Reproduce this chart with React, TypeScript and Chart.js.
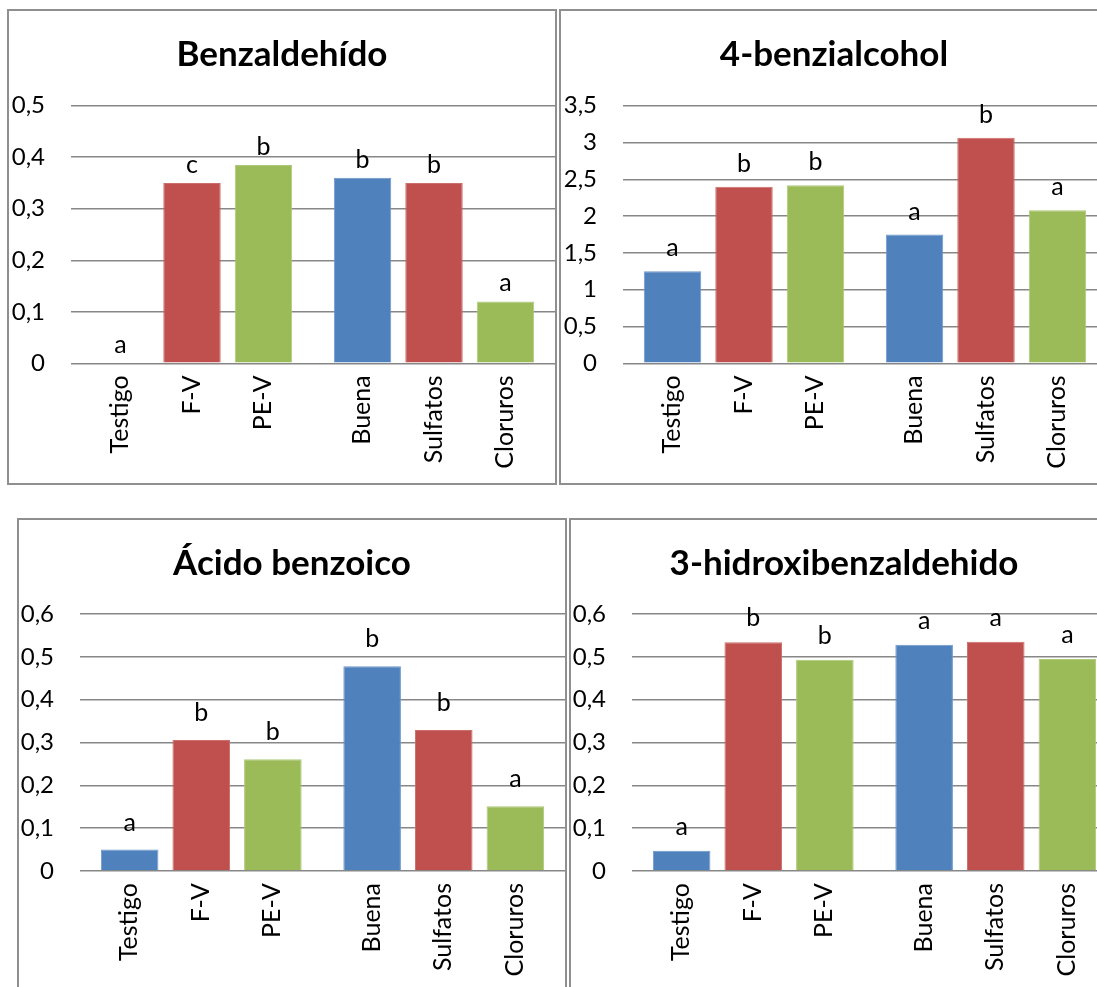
import { useEffect, useRef } from 'react';
import { Chart, registerables } from 'chart.js';

Chart.register(...registerables);

// Treatments, in drawing order: first group then second group
const treatments = ['Testigo', 'F-V', 'PE-V', 'Buena', 'Sulfatos', 'Cloruros'];
const groups = ['Tratamiento', 'Agua'];

const titles = ['Benzaldehído', '4-benzialcohol', 'Ácido benzoico', '3-hidroxibenzaldehido'];

// Concentrations per treatment (same order as treatments)
const benzaldehido = [0, 0.35, 0.385, 0.36, 0.35, 0.12];
const benzialcohol = [1.25, 2.4, 2.42, 1.75, 3.065, 2.08];
const acidoBenzoico = [0.05, 0.306, 0.261, 0.478, 0.329, 0.151];
const hidroxibenzaldehido = [0.047, 0.534, 0.493, 0.528, 0.535, 0.495];

// Significance letters per treatment
const letrasBenzaldehido = ['a', 'c', 'b', 'b', 'b', 'a'];
const letrasBenzialcohol = ['a', 'b', 'b', 'a', 'b', 'a'];
const letrasAcidoBenzoico = ['a', 'b', 'b', 'b', 'b', 'a'];
const letrasHidroxibenzaldehido = ['a', 'b', 'b', 'a', 'a', 'a'];

// Value axis ranges
const yMax = [0.5, 3.5, 0.6, 0.6];
const yStep = [0.1, 0.5, 0.1, 0.1];

const seriesColors = ['#4F81BD', '#C0504D', '#9BBB59'];
const seriesEdges = ['#6F97CB', '#CC6E6B', '#AEC879'];

const FONT = 'Lato, "Open Sans", sans-serif';

type PanelSpec = {
  title: string;
  values: number[];
  letters: string[];
  max: number;
  step: number;
  left: number;
  top: number;
  plotLeft: number;
  plotTop: number;
  plotBottom: number;
  letterGap: number;
};

const PANEL_W = 550;
const PANEL_H = 476;
const BORDER = 2;
const INNER_W = PANEL_W - 2 * BORDER;
const INNER_H = PANEL_H - 2 * BORDER;

const panels: PanelSpec[] = [
  { title: titles[0], values: benzaldehido, letters: letrasBenzaldehido, max: yMax[0], step: yStep[0], left: 7, top: 9, plotLeft: 62, plotTop: 94.7, plotBottom: 352.3, letterGap: 10 },
  { title: titles[1], values: benzialcohol, letters: letrasBenzialcohol, max: yMax[1], step: yStep[1], left: 559, top: 9, plotLeft: 62, plotTop: 94.7, plotBottom: 352.3, letterGap: 15 },
  { title: titles[2], values: acidoBenzoico, letters: letrasAcidoBenzoico, max: yMax[2], step: yStep[2], left: 17, top: 518, plotLeft: 61, plotTop: 94, plotBottom: 351, letterGap: 19 },
  { title: titles[3], values: hidroxibenzaldehido, letters: letrasHidroxibenzaldehido, max: yMax[3], step: yStep[3], left: 569, top: 518, plotLeft: 61, plotTop: 94, plotBottom: 351, letterGap: 16 },
];

function formatTick(v: number): string {
  const r = Math.round(v * 10) / 10;
  return String(r).replace('.', ',');
}

// Draws the title, the letters above the bars and the rotated treatment names
function makeOverlay(spec: PanelSpec) {
  return {
    id: 'overlay',
    afterDatasetsDraw(chart: any) {
      const { ctx, chartArea } = chart;
      ctx.save();
      ctx.fillStyle = '#000';
      for (let d = 0; d < 3; d++) {
        const meta = chart.getDatasetMeta(d);
        meta.data.forEach((bar: any, g: number) => {
          const idx = g * 3 + d;
          ctx.font = `25px ${FONT}`;
          ctx.textAlign = 'center';
          ctx.textBaseline = 'alphabetic';
          ctx.fillText(spec.letters[idx], bar.x, bar.y - spec.letterGap);
          ctx.save();
          ctx.translate(bar.x, chartArea.bottom + 12);
          ctx.rotate(-Math.PI / 2);
          ctx.textAlign = 'right';
          ctx.font = `25px ${FONT}`;
          ctx.fillText(treatments[idx], 0, 7.5);
          ctx.restore();
        });
      }
      ctx.font = `bold 35px ${FONT}`;
      ctx.textAlign = 'center';
      ctx.textBaseline = 'alphabetic';
      ctx.fillText(spec.title, chart.width / 2, 55);
      ctx.restore();
    },
  };
}

function Panel({ spec }: { spec: PanelSpec }) {
  const ref = useRef<HTMLCanvasElement | null>(null);

  useEffect(() => {
    if (!ref.current) return;
    const datasets = [0, 1, 2].map((s) => ({
      label: String(s),
      data: groups.map((_, g) => spec.values[g * 3 + s]),
      backgroundColor: seriesColors[s],
      borderColor: seriesEdges[s],
      borderWidth: 1,
      borderSkipped: 'start' as const,
      categoryPercentage: 0.886,
      barPercentage: 0.804,
    }));
    const chart = new Chart(ref.current, {
      type: 'bar',
      data: { labels: groups, datasets },
      plugins: [makeOverlay(spec)],
      options: {
        animation: false,
        responsive: false,
        events: [],
        layout: {
          padding: {
            left: 0,
            right: 0,
            top: spec.plotTop,
            bottom: INNER_H - spec.plotBottom,
          },
        },
        plugins: {
          legend: { display: false },
          tooltip: { enabled: false },
          title: { display: false },
        },
        scales: {
          x: {
            display: false,
          },
          y: {
            min: 0,
            max: spec.max,
            afterFit: (scale: any) => {
              scale.width = spec.plotLeft;
            },
            ticks: {
              stepSize: spec.step,
              padding: 26,
              color: '#000',
              font: { family: FONT, size: 24 },
              callback: (v: any) => formatTick(Number(v)),
            },
            grid: {
              color: '#878787',
              lineWidth: 1.5,
              drawTicks: false,
            },
            border: { display: false },
          },
        },
      },
    });
    return () => chart.destroy();
  }, [spec]);

  return (
    <div
      style={{
        position: 'absolute',
        left: spec.left,
        top: spec.top,
        width: PANEL_W,
        height: PANEL_H,
        boxSizing: 'border-box',
        border: `${BORDER}px solid #8f8f8f`,
        background: '#fff',
        overflow: 'hidden',
      }}
    >
      <canvas ref={ref} width={INNER_W} height={INNER_H} style={{ display: 'block' }} />
    </div>
  );
}

export default function App() {
  return (
    <div
      style={{
        position: 'absolute',
        left: 0,
        top: 0,
        width: 1097,
        height: 987,
        overflow: 'hidden',
        background: '#fff',
      }}
    >
      {panels.map((p) => (
        <Panel key={p.title} spec={p} />
      ))}
    </div>
  );
}
